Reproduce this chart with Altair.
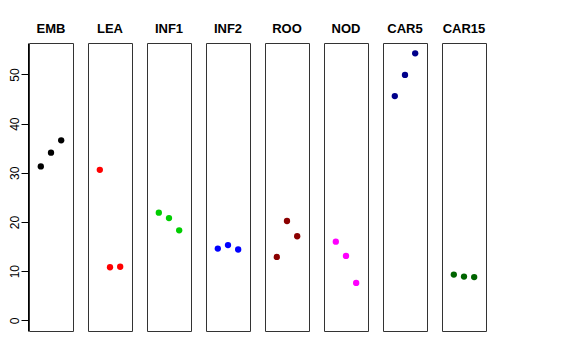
import altair as alt
import pandas as pd

groups = ["EMB", "LEA", "INF1", "INF2", "ROO", "NOD", "CAR5", "CAR15"]
colors = ["#000000", "#FF0000", "#00CD00", "#0000FF", "#8B0000", "#FF00FF", "#00008B", "#006400"]
rep1 = [31.3, 30.6, 21.9, 14.6, 12.9, 16.0, 45.6, 9.3]
rep2 = [34.1, 10.8, 20.8, 15.3, 20.2, 13.1, 49.9, 8.9]
rep3 = [36.6, 10.9, 18.3, 14.4, 17.1, 7.6, 54.3, 8.8]
y_ticks = [0, 10, 20, 30, 40, 50]

rows = []
for i, g in enumerate(groups):
    for j, v in enumerate([rep1[i], rep2[i], rep3[i]]):
        rows.append({"group": g, "idx": j + 1, "value": v})
df = pd.DataFrame(rows)

base = alt.Chart(df).mark_circle(size=40, opacity=1).encode(
    x=alt.X("idx:Q", scale=alt.Scale(domain=[-0.16, 4.16], nice=False, zero=False), axis=None),
    y=alt.Y("value:Q", scale=alt.Scale(domain=[-2.17, 56.4], nice=False, zero=False),
            axis=alt.Axis(values=y_ticks, grid=False, title=None, labelAngle=-90,
                          tickSize=7, labelFontSize=12, labelFont="Liberation Sans",
                          labelColor="#000", tickColor="#000", domainColor="#000",
                          labelPadding=0, labelAlign="center", labelBaseline="bottom")),
    color=alt.Color("group:N", scale=alt.Scale(domain=groups, range=colors), legend=None),
).properties(width=44, height=288)

chart = base.facet(
    column=alt.Column("group:N", sort=groups,
                      header=alt.Header(title=None, labelFontWeight="bold", labelFontSize=13,
                                        labelFont="Liberation Sans", labelColor="#000",
                                        labelPadding=6))
).properties(
    spacing=13,
    padding={"left": -1, "top": 15, "right": 5, "bottom": 5},
).configure(
    background="white",
    view=alt.ViewConfig(stroke="#333", strokeWidth=1),
)

chart.save("out.html", embed_options={"renderer": "svg", "actions": False})
